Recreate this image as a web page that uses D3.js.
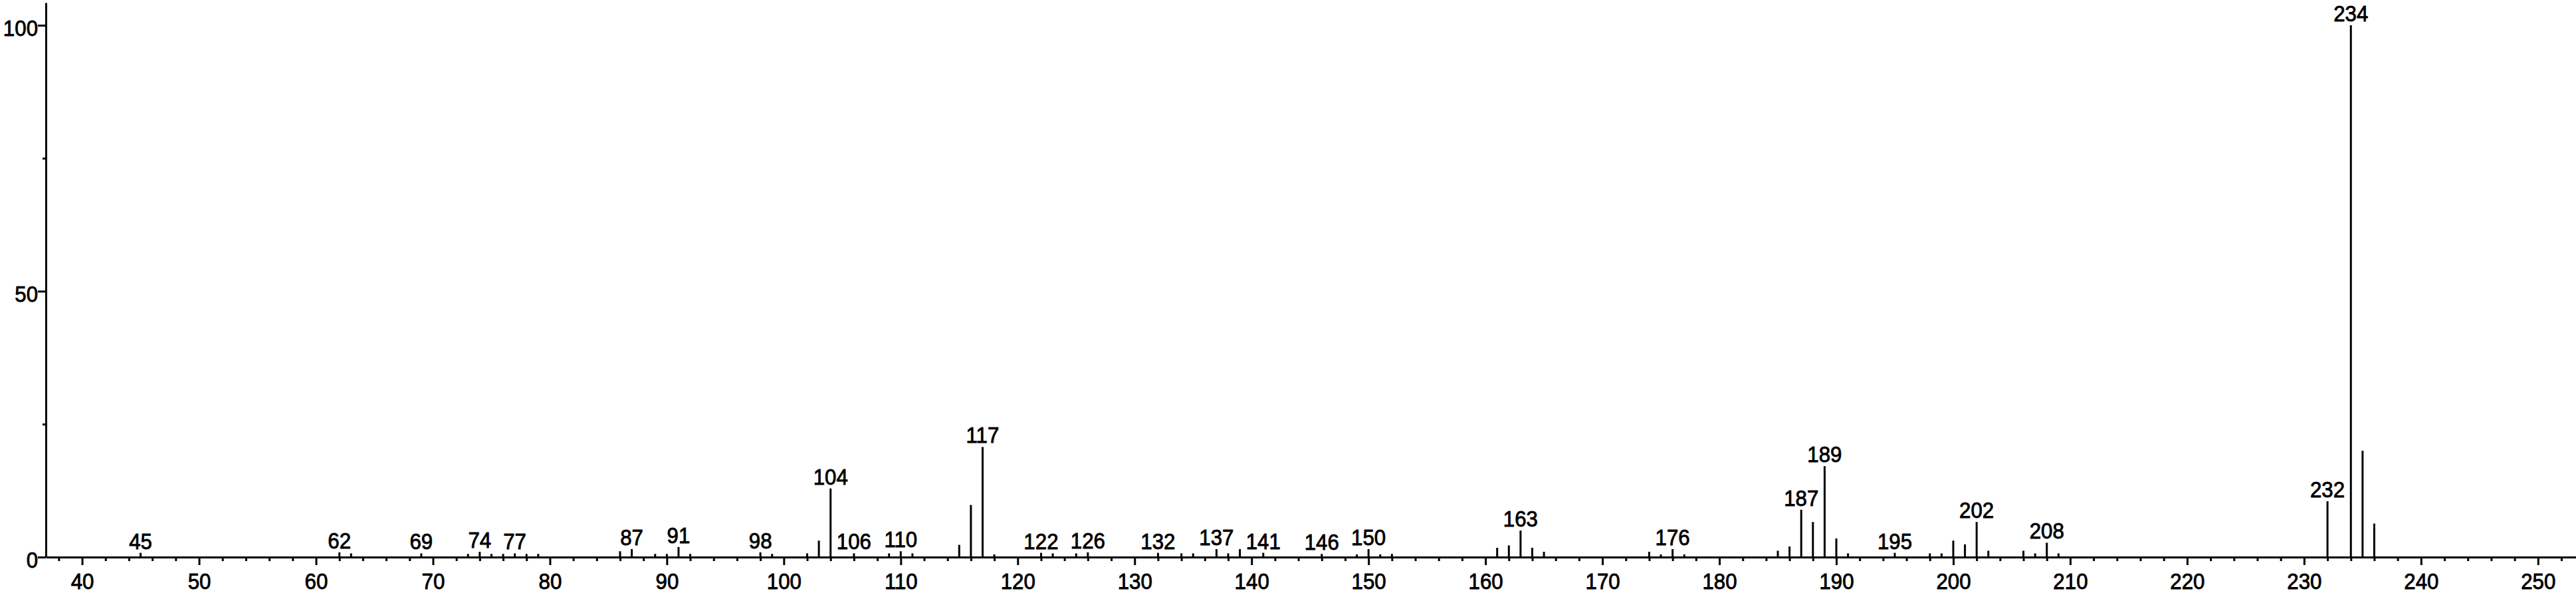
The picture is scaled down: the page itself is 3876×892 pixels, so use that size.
<!DOCTYPE html>
<html>
<head>
<meta charset="utf-8">
<script src="https://cdn.jsdelivr.net/npm/d3@7"></script>
<style>
  html, body { margin: 0; padding: 0; background: #fff; }
  svg text { font-family: "Liberation Sans", Arial, sans-serif; fill: #000; stroke: #000; stroke-width: 0.9px; }
</style>
</head>
<body>
<div id="chart"></div>
<script>
// m/z of each peak and its relative intensity (%)
var mz = [45, 62, 63, 69, 73, 74, 75, 76, 77, 78, 79, 86, 87, 89, 90, 91, 92, 98, 99,
  102, 103, 104, 106, 109, 110, 111, 115, 116, 117, 118, 122, 123, 125, 126, 132,
  134, 135, 137, 138, 139, 141, 146, 149, 150, 151, 152, 161, 162, 163, 164, 165,
  174, 175, 176, 177, 185, 186, 187, 188, 189, 190, 191, 195, 198, 199, 200, 201,
  202, 203, 206, 207, 208, 209, 232, 234, 235, 236];
var intensity = [0.8, 0.9, 0.7, 0.7, 0.6, 1.0, 0.6, 0.6, 0.7, 0.6, 0.6, 1.1, 1.5, 0.6, 0.6, 1.9, 0.6, 0.9, 0.6,
  0.7, 3.1, 12.9, 0.7, 0.7, 1.1, 0.7, 2.3, 9.8, 20.7, 0.5, 0.8, 0.7, 0.7, 0.9, 0.8,
  0.7, 0.7, 1.5, 0.7, 1.5, 0.8, 0.6, 0.5, 1.5, 0.5, 0.6, 1.75, 2.2, 5.0, 1.75, 1.0,
  1.0, 0.5, 1.5, 0.5, 1.2, 2.0, 8.9, 6.6, 17.1, 3.5, 0.7, 0.8, 0.7, 0.7, 3.1, 2.4,
  6.6, 1.2, 1.2, 0.7, 2.7, 0.7, 10.5, 100, 20, 6.3];
// peaks that carry a label
var labelled = [45, 62, 69, 74, 77, 87, 91, 98, 104, 106, 110, 117, 122, 126, 132, 137,
  141, 146, 150, 163, 176, 187, 189, 195, 202, 208, 232, 234];
var xMajor = d3.range(40, 251, 10);
var xMinor = d3.range(38, 253, 2).filter(function(d) { return d % 10 != 0; });
var yMajor = [0, 50, 100];
var yMinor = [25, 75];

var width = 3876, height = 892;
var squeeze = "scale(0.92,1)";   // the original lettering is a bit narrow

var svg = d3.select("#chart").append("svg")
    .attr("width", width)
    .attr("height", height);

var x = d3.scaleLinear().domain([36.9, 253.25]).range([69, 3876]);
var y = d3.scaleLinear().domain([0, 104.25]).range([838, 4]);

var peaks = mz.map(function(m, i) { return {mz: m, v: intensity[i]}; });

// minor x ticks
svg.append("g")
    .attr("transform", "translate(0," + y(0) + ")")
    .call(d3.axisBottom(x).tickValues(xMinor).tickSize(6).tickSizeOuter(0).tickFormat(""))
    .call(function(g) { g.select(".domain").remove(); });

// major x ticks + axis line
var gx = svg.append("g")
    .attr("transform", "translate(0," + y(0) + ")")
    .call(d3.axisBottom(x).tickValues(xMajor).tickSize(12).tickSizeOuter(0).tickPadding(12));

// y axis
svg.append("g")
    .attr("transform", "translate(" + x.range()[0] + ",0)")
    .call(d3.axisLeft(y).tickValues(yMinor).tickSize(5).tickSizeOuter(0).tickFormat(""))
    .call(function(g) { g.select(".domain").remove(); });

var gy = svg.append("g")
    .attr("transform", "translate(" + x.range()[0] + ",0)")
    .call(d3.axisLeft(y).tickValues(yMajor).tickSize(12).tickSizeOuter(0).tickPadding(1));
gy.selectAll("text").attr("dy", "0.47em");

svg.selectAll(".domain, .tick line")
    .attr("stroke", "#000")
    .attr("stroke-width", 3);
svg.selectAll(".tick text")
    .style("font-size", "34px")
    .attr("transform", squeeze);

// peaks
svg.append("g")
    .selectAll("line")
    .data(peaks)
    .enter().append("line")
    .attr("x1", function(d) { return x(d.mz); })
    .attr("x2", function(d) { return x(d.mz); })
    .attr("y1", y(0))
    .attr("y2", function(d) { return y(d.v); })
    .attr("stroke", "#000")
    .attr("stroke-width", 3);

// peak labels
svg.append("g")
    .selectAll("text")
    .data(peaks.filter(function(d) { return labelled.indexOf(d.mz) >= 0; }))
    .enter().append("text")
    .attr("transform", function(d) {
      return "translate(" + x(d.mz) + "," + (y(d.v) - 6) + ") " + squeeze;
    })
    .attr("text-anchor", "middle")
    .style("font-size", "34px")
    .text(function(d) { return d.mz; });
</script>
</body>
</html>
